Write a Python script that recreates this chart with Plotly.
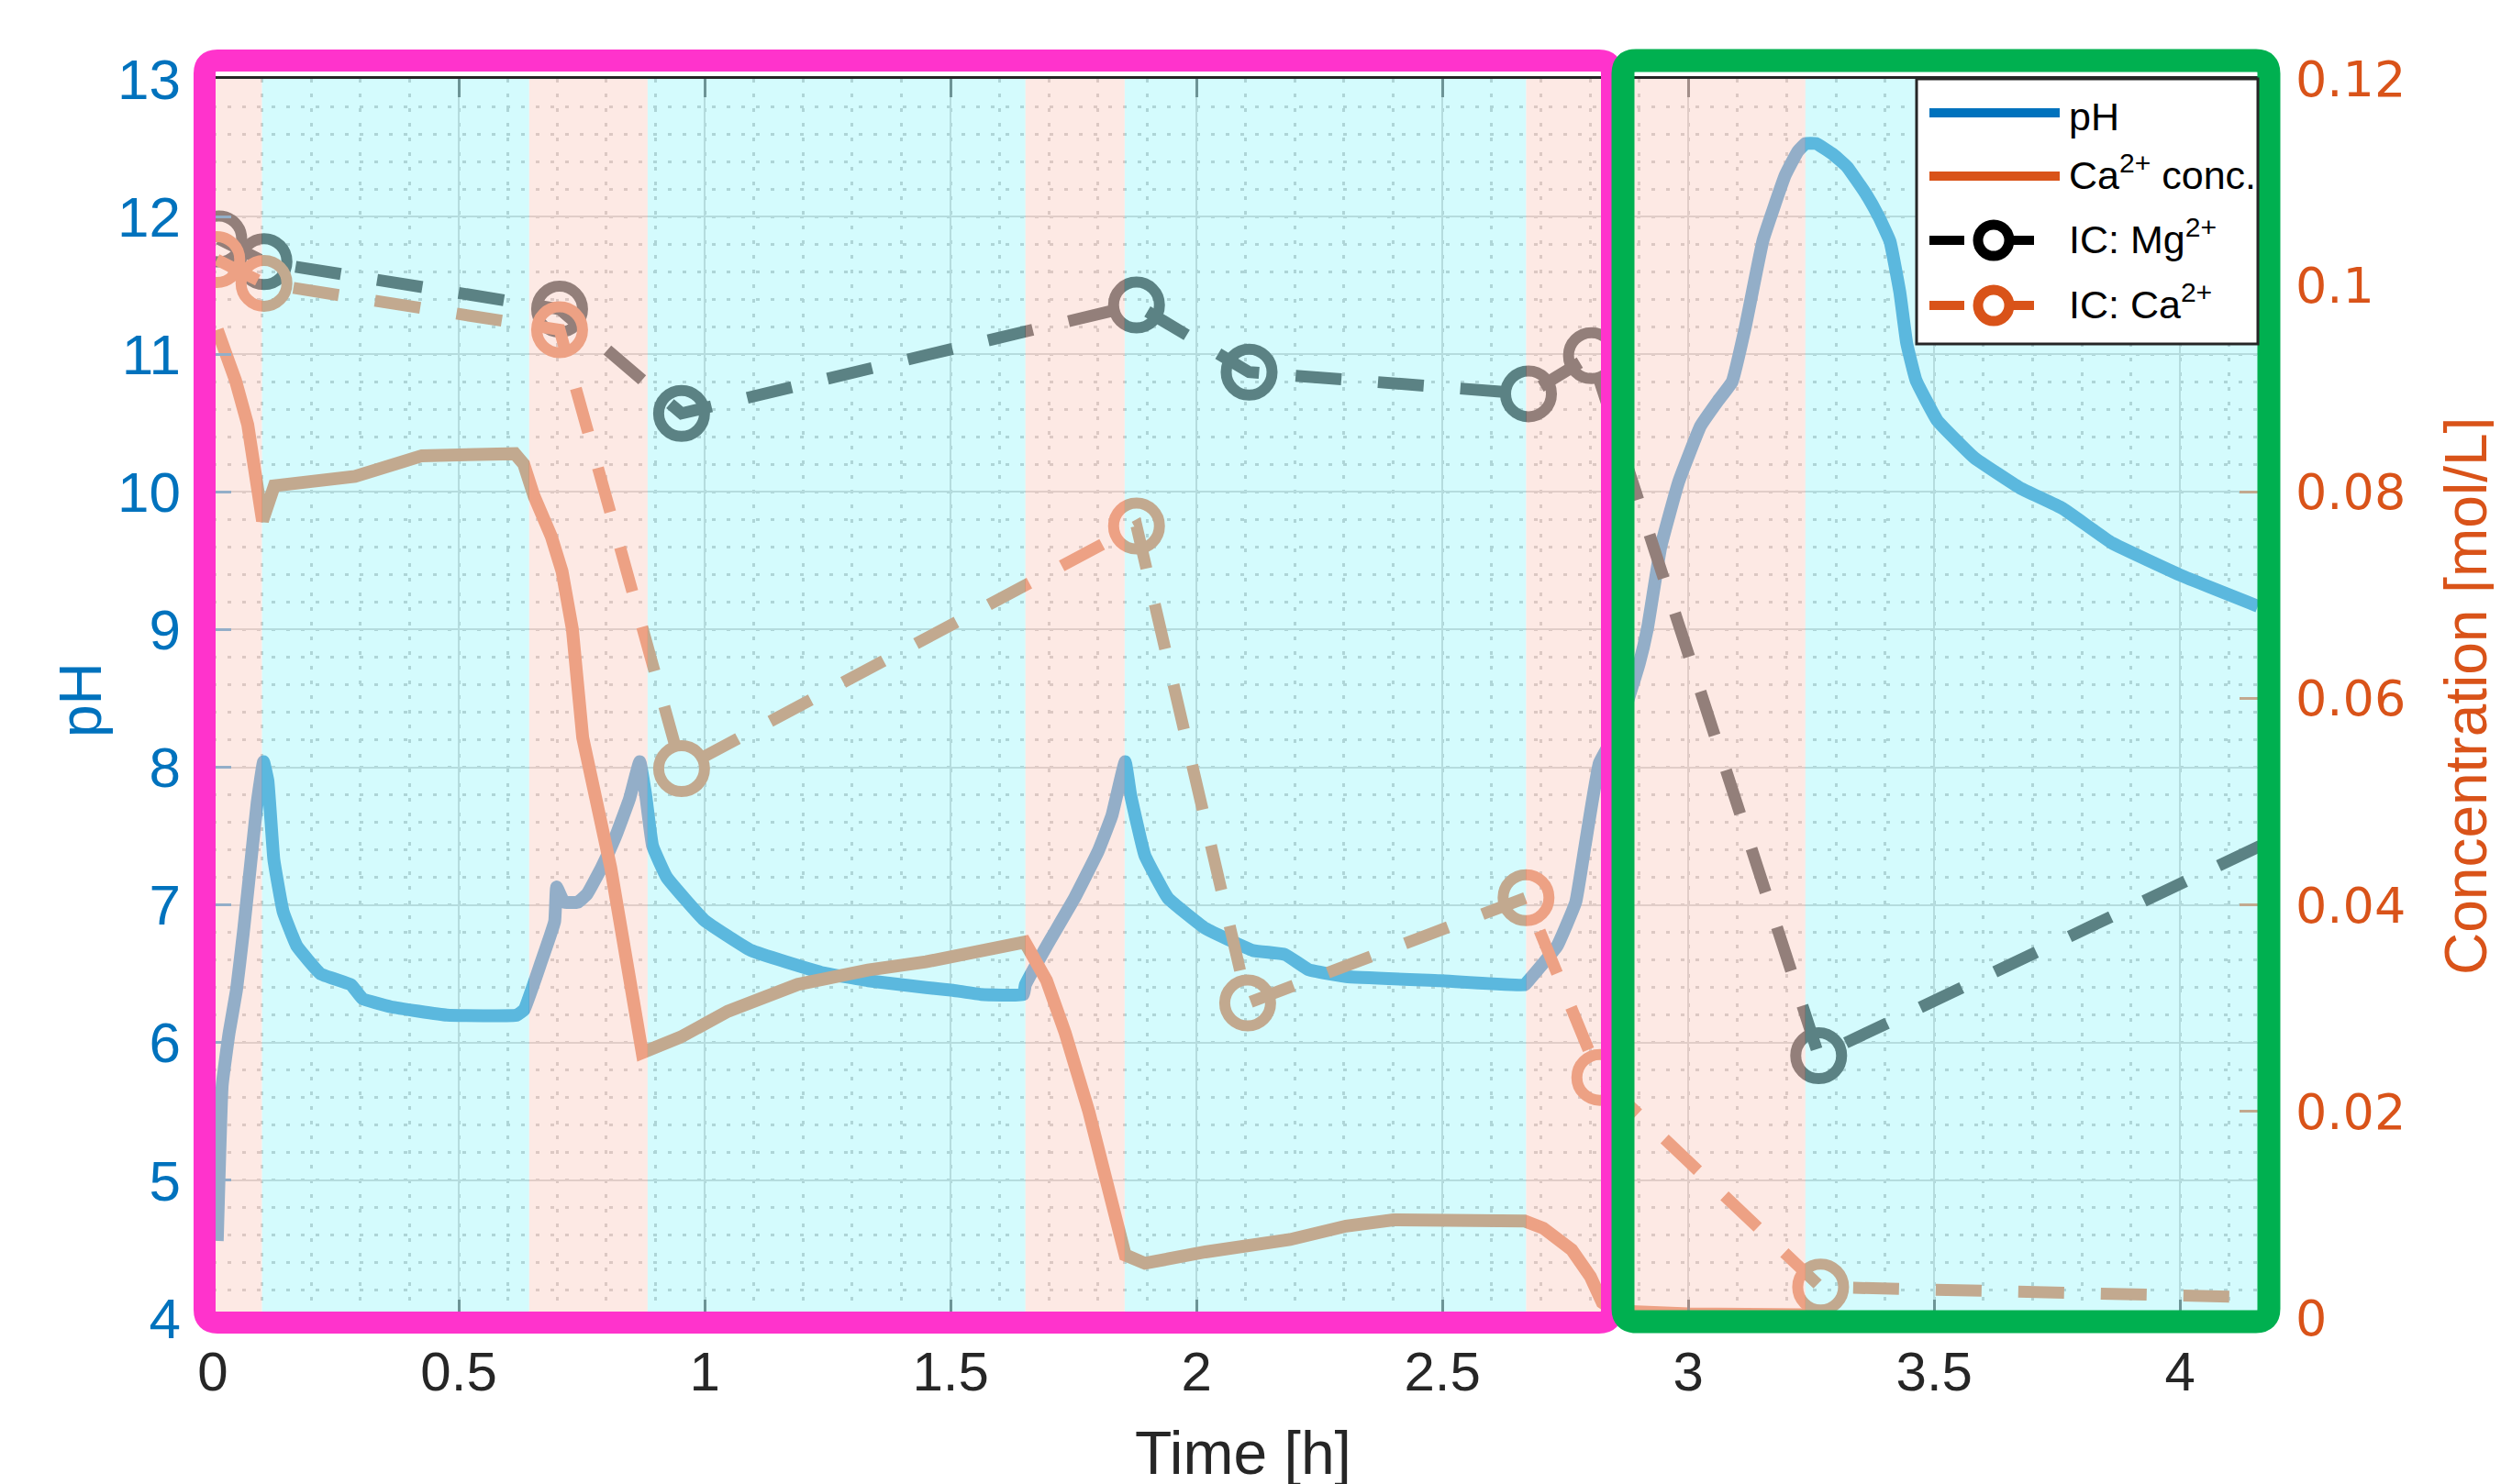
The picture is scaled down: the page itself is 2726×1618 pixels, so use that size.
import plotly.graph_objects as go

# ---------------- data ----------------
ph_time = [0.009, 0.019, 0.033, 0.048, 0.062, 0.076, 0.090, 0.103, 0.112, 0.124,
           0.143, 0.171, 0.219, 0.281, 0.304, 0.362, 0.476, 0.618, 0.633, 0.666,
           0.695, 0.699, 0.714, 0.742, 0.761, 0.790, 0.818, 0.847, 0.868, 0.880,
           0.894, 0.923, 0.999, 1.094, 1.237, 1.332, 1.450, 1.505, 1.562, 1.648,
           1.652, 1.695, 1.752, 1.800, 1.828, 1.855, 1.866, 1.895, 1.942, 2.018,
           2.114, 2.180, 2.228, 2.304, 2.495, 2.667, 2.675, 2.733, 2.771, 2.790,
           2.819, 2.860, 2.900, 2.917, 2.944, 2.980, 3.025, 3.060, 3.089, 3.116,
           3.152, 3.197, 3.222, 3.238, 3.260, 3.295, 3.323, 3.360, 3.387, 3.410,
           3.430, 3.444, 3.463, 3.506, 3.581, 3.674, 3.761, 3.861, 4.004, 4.158]
ph_value = [4.56, 5.69, 6.07, 6.38, 6.80, 7.27, 7.74, 8.04, 7.90, 7.33,
            6.95, 6.70, 6.50, 6.42, 6.32, 6.26, 6.20, 6.20, 6.24, 6.57,
            6.88, 7.13, 7.02, 7.02, 7.08, 7.27, 7.49, 7.77, 8.04, 7.80,
            7.43, 7.20, 6.89, 6.67, 6.51, 6.45, 6.40, 6.38, 6.35, 6.35,
            6.42, 6.70, 7.05, 7.39, 7.65, 8.04, 7.80, 7.36, 7.05, 6.83,
            6.67, 6.64, 6.53, 6.48, 6.45, 6.42, 6.45, 6.70, 7.02, 7.43,
            8.03, 8.30, 8.75, 9.01, 9.60, 10.07, 10.48, 10.66, 10.80, 11.20,
            11.83, 12.30, 12.47, 12.53, 12.53, 12.45, 12.36, 12.17, 12.00, 11.82,
            11.45, 11.08, 10.81, 10.52, 10.25, 10.03, 9.88, 9.63, 9.39, 9.17]

ca_time = [0.009, 0.046, 0.071, 0.101, 0.125, 0.203, 0.289, 0.425, 0.614, 0.632,
           0.653, 0.688, 0.710, 0.731, 0.752, 0.809, 0.866, 0.873, 0.951, 1.047,
           1.189, 1.332, 1.450, 1.550, 1.651, 1.695, 1.733, 1.781, 1.829, 1.855,
           1.895, 2.018, 2.190, 2.304, 2.400, 2.667, 2.705, 2.763, 2.801, 2.825,
           2.850, 3.000, 3.238]
ca_conc = [0.0957, 0.0908, 0.0865, 0.0772, 0.0806, 0.0810, 0.0815, 0.0835, 0.0837, 0.0827,
           0.0796, 0.0757, 0.0723, 0.0667, 0.0562, 0.0436, 0.0267, 0.0257, 0.0272, 0.0297,
           0.0323, 0.0337, 0.0345, 0.0353, 0.0364, 0.0327, 0.0276, 0.0200, 0.0116, 0.0061,
           0.0053, 0.0064, 0.0076, 0.0089, 0.0095, 0.0094, 0.0087, 0.0066, 0.0040, 0.0015,
           0.0007, 0.0004, 0.0003]

ic_mg_time = [0.012, 0.104, 0.705, 0.953, 1.878, 2.107, 2.675, 2.803, 3.265, 4.250]
ic_mg_conc = [0.1045, 0.1023, 0.0977, 0.0876, 0.0981, 0.0916, 0.0895, 0.0932, 0.0254, 0.0477]
ic_ca_time = [0.008, 0.104, 0.705, 0.953, 1.878, 2.104, 2.670, 2.820, 3.269, 4.250]
ic_ca_conc = [0.1025, 0.1002, 0.0957, 0.0532, 0.0767, 0.0305, 0.0407, 0.0233, 0.0030, 0.0019]

acid_phase_start = [0.000, 0.643, 1.652, 2.670]
acid_phase_end = [0.100, 0.884, 1.854, 3.238]
base_phase_start = [0.100, 0.884, 1.854, 3.238]
base_phase_end = [0.643, 1.652, 2.670, 4.158]

x_tick_vals = [0, 0.5, 1, 1.5, 2, 2.5, 3, 3.5, 4]
ph_tick_vals = [4, 5, 6, 7, 8, 9, 10, 11, 12, 13]
conc_tick_vals = [0, 0.02, 0.04, 0.06, 0.08, 0.10, 0.12]
conc_tick_text = ["0", "0.02", "0.04", "0.06", "0.08", "0.1", "0.12"]
legend_labels = ["pH", "Ca<sup>2+</sup> conc.", "IC: Mg<sup>2+</sup>", "IC: Ca<sup>2+</sup>"]

# ---------------- styling / geometry ----------------
W, H = 2726, 1618
L, R, T, B = 224, 2453, 78, 1429
X_RANGE = [0, 4.158]

BLUE = "#0072BD"
ORANGE = "#D95319"
BLACK = "#000000"
DARK = "#262626"
PINK_BAND = "rgba(252,217,208,0.584)"
CYAN_BAND = "rgba(173,247,251,0.525)"
MAGENTA = "#FF33CC"
GREEN = "#00B050"

SANS = "Liberation Sans, Arial, sans-serif"
WIDE = "DejaVu Sans, Verdana, sans-serif"


def px(xp):
    return (xp - L) / (R - L)


def py(yp):
    return (B - yp) / (B - T)


def rrect_path(l, t, r, b, rad):
    pts = [
        ("M", [(l + rad, t)]), ("L", [(r - rad, t)]), ("Q", [(r, t), (r, t + rad)]),
        ("L", [(r, b - rad)]), ("Q", [(r, b), (r - rad, b)]),
        ("L", [(l + rad, b)]), ("Q", [(l, b), (l, b - rad)]),
        ("L", [(l, t + rad)]), ("Q", [(l, t), (l + rad, t)]),
    ]
    s = ""
    for cmd, coords in pts:
        s += cmd + " ".join(f"{px(x):.5f},{py(y):.5f}" for x, y in coords) + " "
    return s + "Z"


fig = go.Figure()

fig.add_trace(go.Scatter(x=ph_time, y=ph_value, mode="lines",
                         line=dict(color=BLUE, width=14, shape="spline", smoothing=0.3),
                         yaxis="y", showlegend=False, name=legend_labels[0]))
fig.add_trace(go.Scatter(x=ca_time, y=ca_conc, mode="lines",
                         line=dict(color=ORANGE, width=14), yaxis="y2",
                         showlegend=False, name=legend_labels[1]))
fig.add_trace(go.Scatter(x=ic_mg_time, y=ic_mg_conc, mode="lines+markers",
                         line=dict(color=BLACK, width=13, dash="50px,40px"),
                         marker=dict(symbol="circle-open", size=50,
                                     line=dict(width=12, color=BLACK)),
                         yaxis="y2", showlegend=False, cliponaxis=True,
                         name=legend_labels[2]))
fig.add_trace(go.Scatter(x=ic_ca_time, y=ic_ca_conc, mode="lines+markers",
                         line=dict(color=ORANGE, width=13, dash="50px,40px"),
                         marker=dict(symbol="circle-open", size=50,
                                     line=dict(width=12, color=ORANGE)),
                         yaxis="y2", showlegend=False, cliponaxis=True,
                         name=legend_labels[3]))

shapes = []
for s, e in zip(acid_phase_start, acid_phase_end):
    shapes.append(dict(type="rect", xref="x", yref="paper", x0=s, x1=e, y0=0, y1=1,
                       fillcolor=PINK_BAND, line=dict(width=0), layer="above"))
for s, e in zip(base_phase_start, base_phase_end):
    shapes.append(dict(type="rect", xref="x", yref="paper", x0=s, x1=e, y0=0, y1=1,
                       fillcolor=CYAN_BAND, line=dict(width=0), layer="above"))

# highlight frames
shapes.append(dict(type="path", xref="paper", yref="paper",
                   path=rrect_path(215, 58, 1749, 1434, 14),
                   line=dict(color=MAGENTA, width=24), layer="above"))
shapes.append(dict(type="path", xref="paper", yref="paper",
                   path=rrect_path(1761, 58, 2465, 1433, 14),
                   line=dict(color=GREEN, width=25), layer="above"))

# legend box (drawn manually so the sample lines match)
LEG_L, LEG_T, LEG_R, LEG_B = 2081, 78, 2453, 367
shapes.append(dict(type="rect", xref="paper", yref="paper",
                   x0=px(LEG_L), x1=px(LEG_R), y0=py(LEG_B), y1=py(LEG_T),
                   fillcolor="white", line=dict(color=DARK, width=3), layer="above"))
row_y = [115, 184, 254, 325]
row_col = [BLUE, ORANGE, BLACK, ORANGE]
for i, (yy, cc) in enumerate(zip(row_y, row_col)):
    if i < 2:
        shapes.append(dict(type="line", xref="paper", yref="paper",
                           x0=px(2095), x1=px(2237), y0=py(yy), y1=py(yy),
                           line=dict(color=cc, width=10), layer="above"))
    else:
        shapes.append(dict(type="line", xref="paper", yref="paper",
                           x0=px(2095), x1=px(2133), y0=py(yy), y1=py(yy),
                           line=dict(color=cc, width=10), layer="above"))
        shapes.append(dict(type="line", xref="paper", yref="paper",
                           x0=px(2178), x1=px(2209), y0=py(yy), y1=py(yy),
                           line=dict(color=cc, width=10), layer="above"))
        shapes.append(dict(type="circle", xref="paper", yref="paper",
                           x0=px(2165 - 17), x1=px(2165 + 17),
                           y0=py(yy + 17), y1=py(yy - 17),
                           line=dict(color=cc, width=11), fillcolor="rgba(0,0,0,0)",
                           layer="above"))

annotations = []
for i, (lab, yy) in enumerate(zip(legend_labels, row_y)):
    dy = 4 if i == 0 else -4
    annotations.append(dict(text=lab, xref="paper", yref="paper", x=px(2245), y=py(yy + dy),
                            xanchor="left", yanchor="middle", showarrow=False,
                            font=dict(family=SANS, size=43, color=BLACK)))

annotations.append(dict(text="pH", xref="paper", yref="paper", x=px(80), y=py(755),
                        xanchor="center", yanchor="middle", textangle=-90, showarrow=False,
                        font=dict(family=SANS, size=64, color=BLUE)))
annotations.append(dict(text="Concentration [mol/L]", xref="paper", yref="paper",
                        x=px(2680), y=py(751), xanchor="center", yanchor="middle",
                        textangle=-90, showarrow=False,
                        font=dict(family=SANS, size=64, color=ORANGE)))
annotations.append(dict(text="Time [h]", xref="paper", yref="paper", x=px(1347), y=py(1576),
                        xanchor="center", yanchor="middle", showarrow=False,
                        font=dict(family=SANS, size=66, color=DARK)))

fig.update_layout(
    width=W, height=H,
    margin=dict(l=L, r=W - R, t=T, b=H - B, pad=0),
    paper_bgcolor="white", plot_bgcolor="white",
    showlegend=False,
    shapes=shapes, annotations=annotations,
    xaxis=dict(range=X_RANGE, tickvals=x_tick_vals, ticks="inside", ticklen=20,
               tickwidth=3, tickcolor=DARK, showline=True, linecolor=DARK, linewidth=3,
               mirror="ticks", showgrid=True, gridcolor="#BDBDBD", gridwidth=2,
               zeroline=False, ticklabelstandoff=4,
               minor=dict(dtick=0.1, showgrid=True, gridcolor="#B0B0B0",
                          griddash="4px,12px", gridwidth=3),
               tickfont=dict(family=SANS, size=60, color=DARK)),
    yaxis=dict(range=[4, 13], tickvals=ph_tick_vals, ticks="inside", ticklen=20,
               tickwidth=3, tickcolor=BLUE, showline=False, showgrid=True,
               gridcolor="#BDBDBD", gridwidth=2, zeroline=False, ticklabelstandoff=34,
               minor=dict(dtick=0.2, showgrid=True, gridcolor="#B0B0B0",
                          griddash="4px,12px", gridwidth=3),
               tickfont=dict(family=SANS, size=62, color=BLUE)),
    yaxis2=dict(range=[0, 0.12], overlaying="y", side="right", tickvals=conc_tick_vals,
                ticktext=conc_tick_text, ticks="inside", ticklen=20, tickwidth=3,
                tickcolor=ORANGE, showline=False, showgrid=False, zeroline=False,
                ticklabelstandoff=40,
                tickfont=dict(family=WIDE, size=54, color=ORANGE)),
)

fig.write_html("out.html")
